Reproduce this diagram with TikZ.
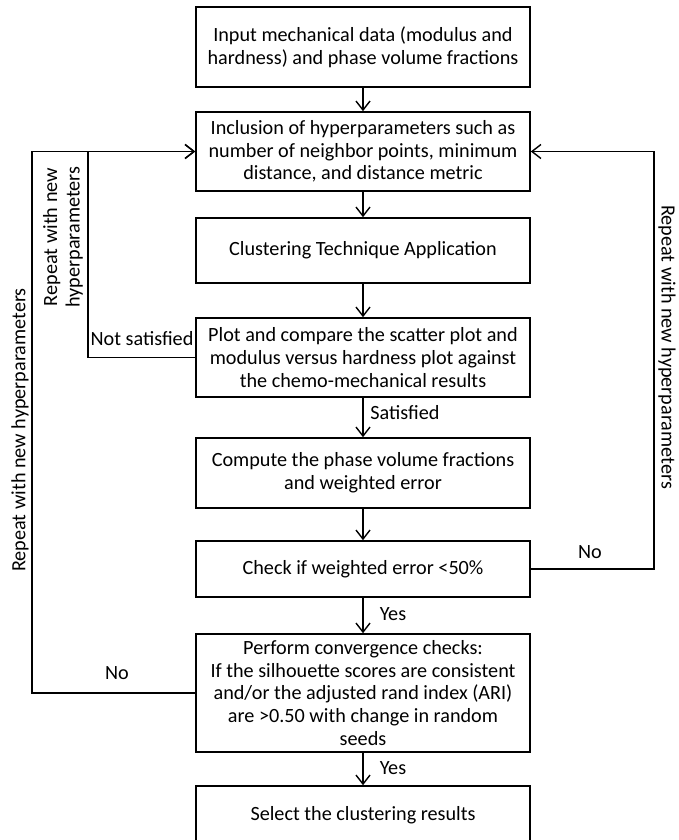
\documentclass[tikz,border=0pt]{standalone}
\usepackage{fontspec}
\setmainfont{Carlito}
\usetikzlibrary{arrows.meta}

\begin{document}
\begin{tikzpicture}[x=1pt,y=-1pt,line width=1.6pt,
					every node/.style={font=\fontsize{20.2}{22.7}\selectfont},
					stepbox/.style={draw,fill=white,align=center,minimum width=334pt,inner sep=0pt},
					flow/.style={-{Straight Barb[length=9pt,width=14pt,line width=1.4pt]}}
					]
					\useasboundingbox (0,0) rectangle (678,840);
					% main column of steps
					\node[stepbox,minimum height=80pt](input) at (363,47) {Input mechanical data (modulus and\\hardness) and phase volume fractions};
					\node[stepbox,minimum height=79pt](incl) at (363,151.5) {Inclusion of hyperparameters such as\\number of neighbor points, minimum\\distance, and distance metric};
					\node[stepbox,minimum height=65pt](clust) at (363,250.5) {Clustering Technique Application};
					\node[stepbox,minimum height=79pt](plot) at (363,357.5) {Plot and compare the scatter plot and\\modulus versus hardness plot against\\the chemo-mechanical results};
					\node[stepbox,minimum height=70pt](comp) at (363,473) {Compute the phase volume fractions\\and weighted error};
					\node[stepbox,minimum height=56pt](check) at (363,569) {Check if weighted error <50\%};
					\node[stepbox,minimum height=118pt](conv) at (363,693) {Perform convergence checks:\\If the silhouette scores are consistent\\and/or the adjusted rand index (ARI)\\are >0.50 with change in random\\seeds};
					\node[stepbox,minimum height=58pt](select) at (363,815) {Select the clustering results};
					% forward arrows
					\draw[flow] (input) -- (incl);
					\draw[flow] (incl) -- (clust);
					\draw[flow] (clust) -- (plot);
					\draw[flow] (plot) -- (comp);
					\draw[flow] (comp) -- (check);
					\draw[flow] (check) -- (conv);
					\draw[flow] (conv) -- (select);
					% loops back
					\draw[flow] (check.east) -- ++(123,0) |- (incl.east);
					\draw[flow] (conv.west) -- ++(-163,0) |- (incl.west);
					\draw[flow] (plot.west) -- ++(-107,0) |- (incl.west);
					% labels
					\node(satis) at (405,413) {Satisfied};
					\node(notsatis) at (142,339) {Not satisfied};
					\node(yesa) at (393,614) {Yes};
					\node(yesb) at (393,768) {Yes};
					\node(nor) at (590,552) {No};
					\node(nol) at (117,673) {No};
					\node[rotate=90](repouter) at (20,430) {Repeat with new hyperparameters};
					\node[rotate=90,align=center](repinner) at (63,237) {Repeat with new\\hyperparameters};
					\node[rotate=-90](repright) at (667,347) {Repeat with new hyperparameters};
\end{tikzpicture}
\end{document}
